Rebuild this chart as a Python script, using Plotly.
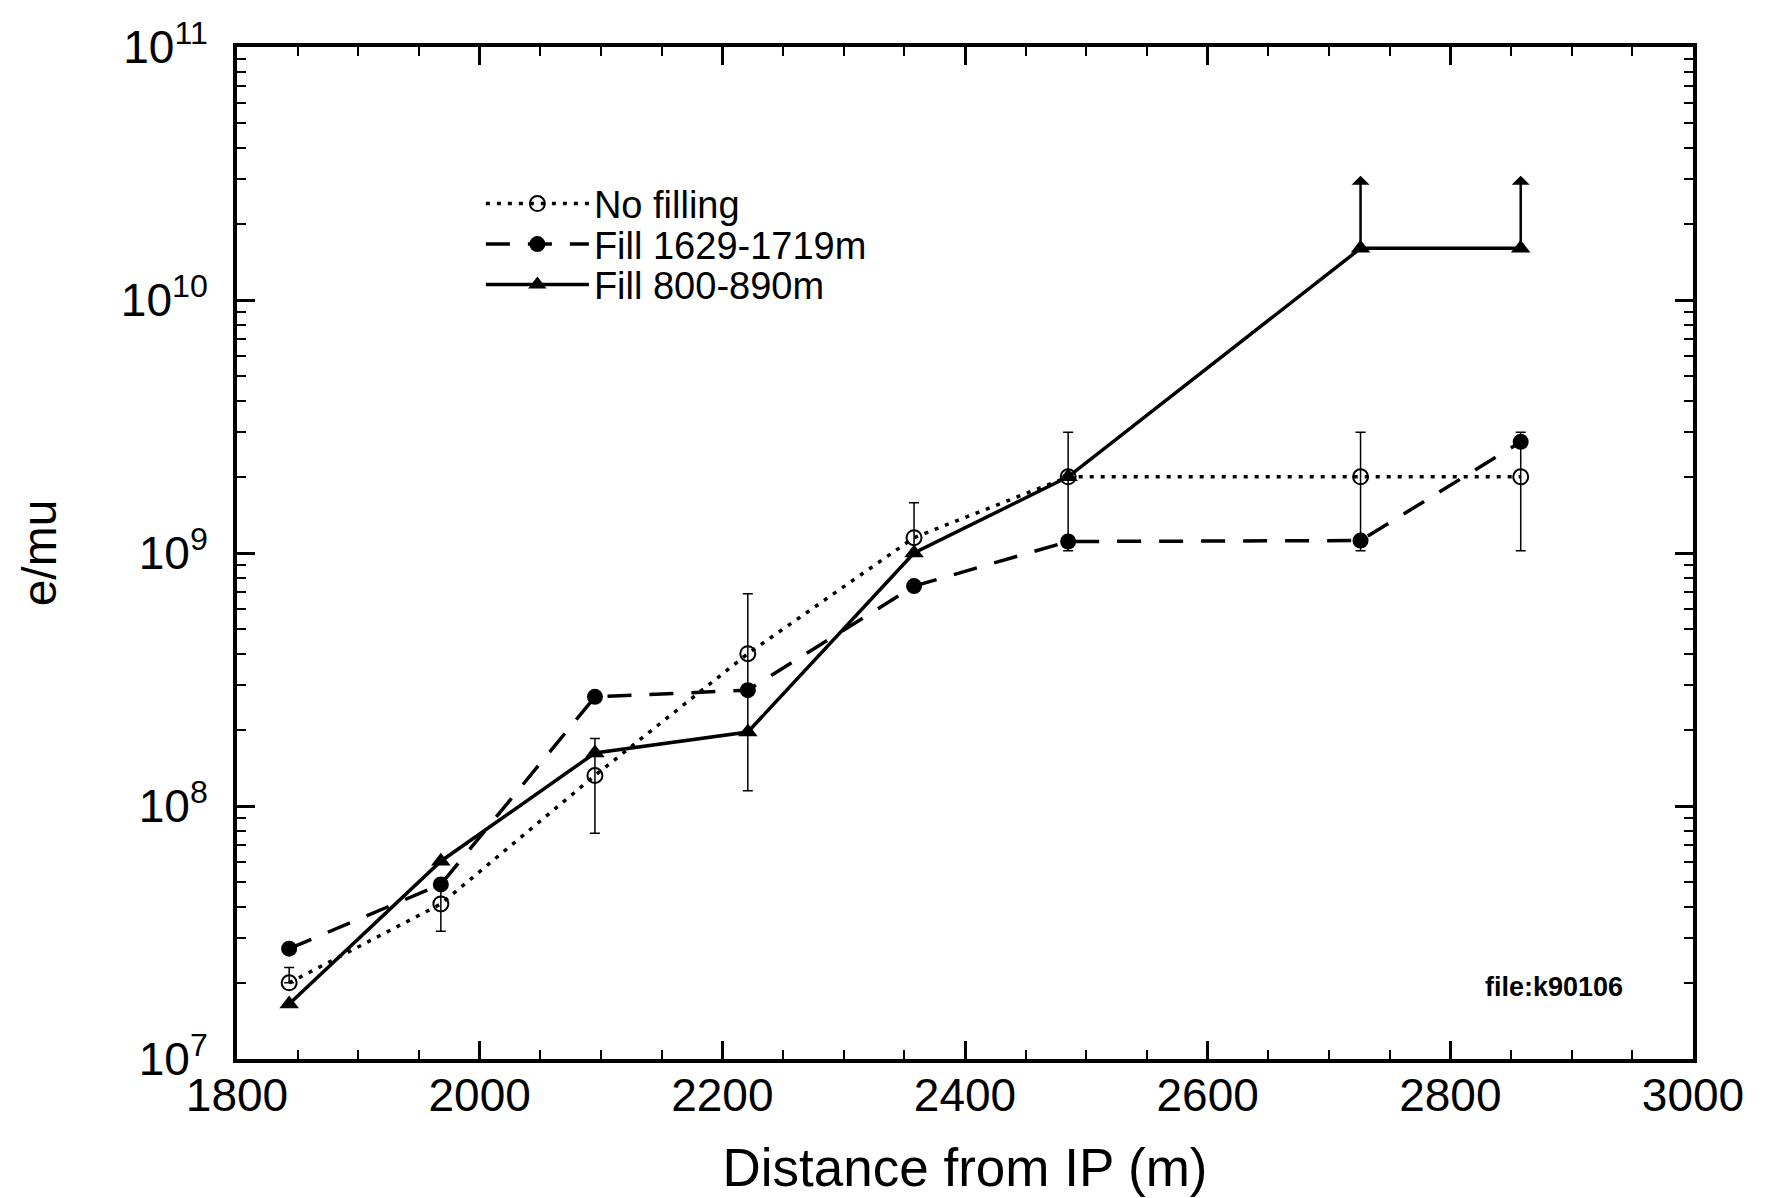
import plotly.graph_objects as go
import math

# ---- data ----
distance = [1843, 1968, 2095, 2221, 2358, 2485, 2726, 2858]

no_filling = [2.0e7, 4.1e7, 1.32e8, 4.0e8, 1.15e9, 2.0e9, 2.0e9, 2.0e9]
no_filling_upper = [2.3e7, 4.8e7, 1.85e8, 6.9e8, 1.58e9, 3.0e9, 3.0e9, 3.0e9]
no_filling_lower = [2.0e7, 3.2e7, 7.8e7, 1.15e8, 1.0e9, 1.02e9, 1.02e9, 1.02e9]

fill_1629 = [2.73e7, 4.9e7, 2.7e8, 2.87e8, 7.4e8, 1.11e9, 1.12e9, 2.75e9]

fill_800 = [1.65e7, 6.05e7, 1.62e8, 1.96e8, 1.0e9, 2.0e9, 1.6e10, 1.6e10]
limit_x = [2726, 2858]
limit_from = [1.6e10, 1.6e10]
limit_to = [3.1e10, 3.1e10]

x_ticks = [1800, 2000, 2200, 2400, 2600, 2800, 3000]
y_exponents = [7, 8, 9, 10, 11]

FONT = "Liberation Sans, Arial, Helvetica, sans-serif"

fig = go.Figure()

fig.add_trace(go.Scatter(
    x=distance, y=no_filling, name="No filling", mode="lines+markers",
    line=dict(color="black", width=3.5, dash="4px,7px"),
    marker=dict(symbol="circle-open", size=15, color="black", line=dict(width=2)),
    error_y=dict(type="data", symmetric=False,
                 array=[u - v for u, v in zip(no_filling_upper, no_filling)],
                 arrayminus=[v - l for v, l in zip(no_filling, no_filling_lower)],
                 color="black", thickness=1.5, width=5),
    legend="legend",
))

fig.add_trace(go.Scatter(
    x=distance, y=fill_1629, name="Fill 1629-1719m", mode="lines+markers",
    line=dict(color="black", width=3.5, dash="24px,18px"),
    marker=dict(symbol="circle", size=16, color="black"),
    legend="legend2",
))

fig.add_trace(go.Scatter(
    x=distance, y=fill_800, name="Fill 800-890m", mode="lines+markers",
    line=dict(color="black", width=3.5),
    marker=dict(symbol="triangle-up", size=17, color="black"),
    legend="legend3",
))

# lower-limit arrows
for lx, lf, lt in zip(limit_x, limit_from, limit_to):
    fig.add_annotation(
        x=lx, y=math.log10(lt), ax=lx, ay=math.log10(lf),
        xref="x", yref="y", axref="x", ayref="y",
        text="", showarrow=True, arrowhead=1, arrowsize=1.2,
        arrowwidth=2.5, arrowcolor="black", standoff=0, startstandoff=0,
    )

fig.add_annotation(
    x=0.9045, y=0.071, xref="paper", yref="paper", text="<b>file:k90106</b>",
    showarrow=False, font=dict(family=FONT, size=27, color="black"),
    xanchor="center", yanchor="middle",
)

leg_common = dict(font=dict(family=FONT, size=38, color="black"),
                  bgcolor="rgba(0,0,0,0)", xanchor="left", yanchor="middle",
                  itemwidth=103, tracegroupgap=0)

LX = 0.1675
fig.update_layout(
    width=1765, height=1198,
    margin=dict(l=229, r=80, t=39, b=147),
    paper_bgcolor="white", plot_bgcolor="white",
    font=dict(family=FONT, color="black"),
    showlegend=True,
    legend=dict(x=LX, y=0.845, **leg_common),
    legend2=dict(x=LX, y=0.805, **leg_common),
    legend3=dict(x=LX, y=0.765, **leg_common),
    xaxis=dict(
        range=[1800, 3000], tickvals=x_ticks, ticktext=[str(t) for t in x_ticks],
        ticks="inside", ticklen=18, tickwidth=3, tickcolor="black",
        minor=dict(ticks="inside", ticklen=9, tickwidth=2, dtick=50, tickcolor="black"),
        showline=True, linewidth=4, linecolor="black", mirror="ticks",
        showgrid=False, zeroline=False,
        tickfont=dict(family=FONT, size=46, color="black"),
        ticklabelstandoff=-7,
        title=dict(text="Distance from IP (m)", font=dict(family=FONT, size=53, color="black"),
                   standoff=30),
        automargin=False,
    ),
    yaxis=dict(
        type="log", range=[7, 11],
        tickvals=[10 ** e for e in y_exponents],
        ticktext=["10<sup>%d</sup>" % e for e in y_exponents],
        ticks="inside", ticklen=18, tickwidth=3, tickcolor="black",
        minor=dict(ticks="inside", ticklen=9, tickwidth=2, tickcolor="black",
                   tickvals=[m * 10 ** e for e in range(7, 11) for m in range(2, 10)]),
        showline=True, linewidth=4, linecolor="black", mirror="ticks",
        showgrid=False, zeroline=False,
        tickfont=dict(family=FONT, size=46, color="black"),
        ticklabelstandoff=16,
        title=dict(text="e/mu", font=dict(family=FONT, size=48, color="black"),
                   standoff=50),
        automargin=False,
    ),
)

fig.write_html("out.html")
